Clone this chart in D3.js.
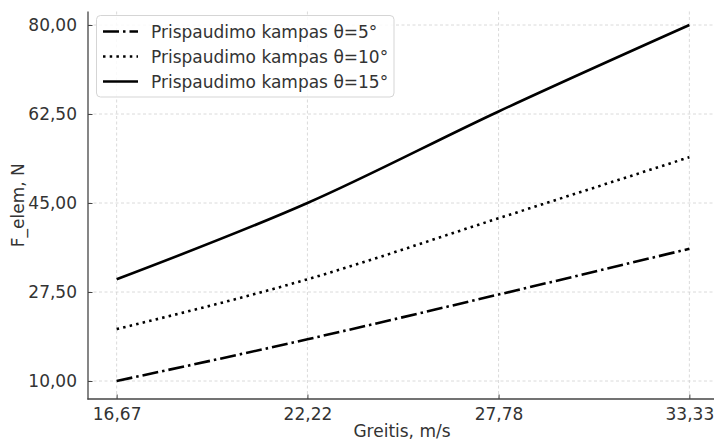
<!DOCTYPE html>
<html>
<head>
<meta charset="utf-8">
<script src="https://cdn.jsdelivr.net/npm/d3@7"></script>
<style>
  html, body { margin: 0; padding: 0; background: #fff; }
  svg { display: block; font-family: "DejaVu Sans", sans-serif; }
</style>
</head>
<body>
<svg id="chart" width="714" height="441"></svg>
<script>
// Speeds (m/s) and pressing force per pressing angle
const speeds = [16.67, 22.22, 27.78, 33.33];
const speedLabels = ["16,67", "22,22", "27,78", "33,33"];
const force5 = [10, 18.2, 27, 36];
const force10 = [20.2, 30, 42, 54];
const force15 = [30, 45, 63, 80];
const yTicks = [10, 27.5, 45, 62.5, 80];
const yTickLabels = ["10,00", "27,50", "45,00", "62,50", "80,00"];
const seriesNames = ["Prispaudimo kampas θ=5°", "Prispaudimo kampas θ=10°", "Prispaudimo kampas θ=15°"];

const series = [
  { name: seriesNames[0], values: force5, dash: "16,4,2.5,4" },
  { name: seriesNames[1], values: force10, dash: "2.5,4.2" },
  { name: seriesNames[2], values: force15, dash: null }
];

const svg = d3.select("#chart");
const plot = { left: 88, right: 718, top: 11.5, bottom: 399 };
const fontSize = "17px";

const xPad = 0.05 * (speeds[3] - speeds[0]);
const x = d3.scaleLinear()
  .domain([speeds[0] - xPad, speeds[3] + xPad])
  .range([plot.left, plot.right]);
const y = d3.scaleLinear().domain([10, 80]).range([381, 25]);

const textColor = "#333";
const axisColor = "#444";

// grid
const grid = svg.append("g");
speeds.forEach(s => grid.append("line")
  .attr("x1", x(s)).attr("x2", x(s))
  .attr("y1", plot.top).attr("y2", plot.bottom)
  .attr("stroke", "#d0d0d0").attr("stroke-width", 0.8)
  .attr("stroke-dasharray", "3,2.5"));
yTicks.forEach(v => grid.append("line")
  .attr("x1", plot.left).attr("x2", plot.right)
  .attr("y1", y(v)).attr("y2", y(v))
  .attr("stroke", "#d0d0d0").attr("stroke-width", 0.8)
  .attr("stroke-dasharray", "3,2.5"));

// series lines
const line = d3.line()
  .x((d, i) => x(speeds[i]))
  .y(d => y(d))
  .curve(d3.curveMonotoneX);

series.forEach(s => {
  const p = svg.append("path")
    .datum(s.values)
    .attr("d", line)
    .attr("fill", "none")
    .attr("stroke", "#000")
    .attr("stroke-width", 2.6);
  if (s.dash) p.attr("stroke-dasharray", s.dash);
});

// axes (inward ticks)
const xAxis = d3.axisBottom(x)
  .tickValues(speeds)
  .tickFormat((d, i) => speedLabels[i])
  .tickSizeInner(-4.5).tickSizeOuter(0).tickPadding(9);
const gx = svg.append("g").attr("transform", `translate(0,${plot.bottom})`).call(xAxis);
gx.select(".domain").remove();
gx.selectAll(".tick line").attr("stroke", axisColor).attr("stroke-width", 1);
gx.selectAll(".tick text").attr("fill", textColor)
  .style("font-family", "DejaVu Sans").style("font-size", fontSize);

const yAxis = d3.axisLeft(y)
  .tickValues(yTicks)
  .tickFormat((d, i) => yTickLabels[i])
  .tickSizeInner(-4.5).tickSizeOuter(0).tickPadding(11);
const gy = svg.append("g").attr("transform", `translate(${plot.left},0)`).call(yAxis);
gy.select(".domain").remove();
gy.selectAll(".tick line").attr("stroke", axisColor).attr("stroke-width", 1);
gy.selectAll(".tick text").attr("fill", textColor)
  .style("font-family", "DejaVu Sans").style("font-size", fontSize);

// spines
svg.append("line").attr("x1", plot.left).attr("x2", plot.left)
  .attr("y1", plot.top).attr("y2", plot.bottom + 0.6)
  .attr("stroke", axisColor).attr("stroke-width", 1.3);
svg.append("line").attr("x1", plot.left - 0.6).attr("x2", plot.right)
  .attr("y1", plot.bottom).attr("y2", plot.bottom)
  .attr("stroke", axisColor).attr("stroke-width", 1.3);

// axis titles
svg.append("text")
  .attr("x", (plot.left + plot.right) / 2 - 1).attr("y", 437)
  .attr("text-anchor", "middle").attr("fill", textColor)
  .style("font-size", fontSize).text("Greitis, m/s");
svg.append("text")
  .attr("transform", `translate(24,${(plot.top + plot.bottom) / 2}) rotate(-90)`)
  .attr("text-anchor", "middle").attr("fill", textColor)
  .style("font-size", fontSize).text("F_elem, N");

// legend
const legend = svg.append("g");
legend.append("rect")
  .attr("x", 96.5).attr("y", 15.5).attr("width", 297.5).attr("height", 81.5)
  .attr("rx", 4).attr("fill", "rgba(255,255,255,0.85)")
  .attr("stroke", "#d5d5d5").attr("stroke-width", 1);
series.forEach((s, i) => {
  const cy = 31.5 + i * 25;
  const l = legend.append("line")
    .attr("x1", 103).attr("x2", 138).attr("y1", cy).attr("y2", cy)
    .attr("stroke", "#000").attr("stroke-width", 2.6);
  if (s.dash) l.attr("stroke-dasharray", s.dash);
  legend.append("text")
    .attr("x", 151).attr("y", cy + 6)
    .attr("fill", textColor).style("font-size", fontSize)
    .text(s.name);
});
</script>
</body>
</html>
